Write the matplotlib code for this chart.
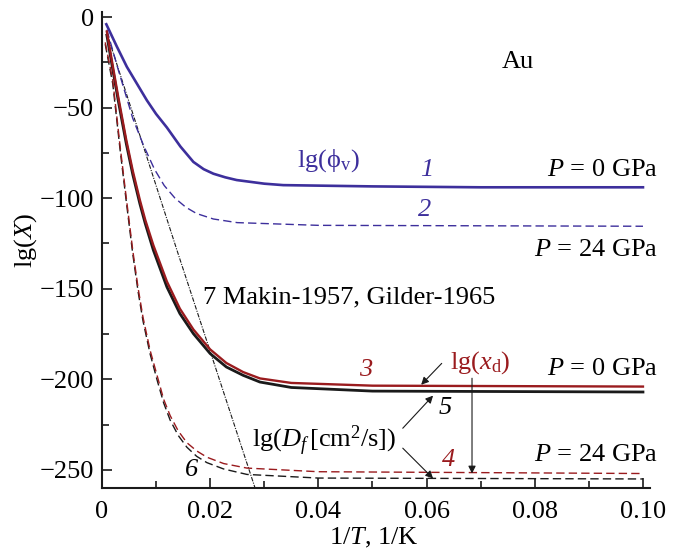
import matplotlib
matplotlib.use('Agg')
import matplotlib.pyplot as plt

plt.rcParams['font.family'] = ['Liberation Serif', 'DejaVu Serif']
plt.rcParams['mathtext.fontset'] = 'custom'
plt.rcParams['mathtext.rm'] = 'Liberation Serif'
plt.rcParams['mathtext.it'] = 'Liberation Serif:italic'

blue = '#3d2f9c'
red = '#9a1b1e'
black = '#1a1a1a'

# 1: lg(phi_v), P = 0 GPa
x1 = [0.0008, 0.0027, 0.0046, 0.0065, 0.0083, 0.010, 0.012, 0.0145, 0.0169, 0.0188, 0.0206,
      0.0228, 0.0249, 0.030, 0.0335, 0.05, 0.07, 0.10]
y1 = [-4, -16, -27.5, -37, -46, -53.5, -61, -71.5, -80, -84, -86.5, -88.5, -90, -92, -92.8,
      -93.5, -94, -94]
# 2: lg(phi_v), P = 24 GPa
x2 = [0.0009, 0.003, 0.0057, 0.0077, 0.0097, 0.0115, 0.0135, 0.0155, 0.0175, 0.0206, 0.025,
      0.04, 0.10]
y2 = [-7, -29, -56, -71, -84, -93, -100, -105, -108.5, -111.5, -113.5, -115, -115.5]
# 3: lg(x_d), P = 0 GPa
x3 = [0.0009, 0.002, 0.003, 0.0045, 0.0057, 0.007, 0.008, 0.0095, 0.012, 0.0144, 0.0169, 0.020,
      0.023, 0.0261, 0.0292, 0.035, 0.05, 0.10]
y3 = [-8, -27, -44, -68, -85, -101, -112, -126, -146, -161, -172.5, -183.5, -191, -196, -199.5,
      -202, -203.5, -204]
# 5: lg(D_f), P = 0 GPa
x5 = x3
y5 = [-10, -29, -46, -70, -87, -103, -114, -128.7, -149, -163.7, -174.8, -185.8, -193.2,
      -197.8, -201.5, -204.5, -206.5, -207]
# 4: lg(x_d), P = 24 GPa
x4 = [0.0006, 0.002, 0.0033, 0.0045, 0.0057, 0.0067, 0.0076, 0.0089, 0.0102, 0.0114, 0.0126,
      0.0141, 0.0157, 0.0175, 0.0194, 0.0225, 0.0268, 0.04, 0.10]
y4 = [-14, -35, -70, -100, -129, -150, -166, -184, -198, -211, -220, -228.5, -235, -239.5, -243,
      -246.5, -249, -251, -252]
# 6: lg(D_f), P = 24 GPa
x6 = x4
y6 = [-15, -37, -72, -102, -131, -152, -168, -186, -200.5, -213, -222.5, -231, -237.5, -242.5,
      -246, -249.5, -252.5, -254.5, -255]
# 7: Makin-1957, Gilder-1965
x7 = [0.0008, 0.0140, 0.0283]
y7 = [-8, -130, -260]

xtick_vals = [0, 0.02, 0.04, 0.06, 0.08, 0.10]
xtick_labels = ['0', '0.02', '0.04', '0.06', '0.08', '0.10']
ytick_vals = [0, -50, -100, -150, -200, -250]
ytick_labels = ['0', '\u221250', '\u2212100', '\u2212150', '\u2212200', '\u2212250']

fig = plt.figure(figsize=(6.78, 5.54), dpi=100)
ax = fig.add_axes([0.1504, 0.1191, 0.8083, 0.860])

ax.plot(x7, y7, color=black, lw=0.8, ls=(0, (4, 1.2, 1, 1.2)))
ax.plot(x1, y1, color=blue, lw=1.9)
ax.plot(x2, y2, color=blue, lw=1.0, ls=(0, (6, 3)))
ax.plot(x5, y5, color=black, lw=2.0)
ax.plot(x3, y3, color=red, lw=1.7)
ax.plot(x6, y6, color=black, lw=1.0, ls=(0, (6, 3)))
ax.plot(x4, y4, color=red, lw=1.0, ls=(0, (6, 3)))

ax.set_xlim(0, 0.1013)
ax.set_ylim(-260, 3)
for s in ['top', 'right']:
    ax.spines[s].set_visible(False)
for s in ['left', 'bottom']:
    ax.spines[s].set_linewidth(1.5)
    ax.spines[s].set_color(black)

ax.set_xticks(xtick_vals)
ax.set_xticklabels(xtick_labels)
ax.set_xticks([0.01, 0.03, 0.05, 0.07, 0.09], minor=True)
ax.set_yticks(ytick_vals)
ax.set_yticklabels(ytick_labels)
ax.set_yticks([-25, -75, -125, -175, -225], minor=True)
ax.tick_params(which='both', direction='in', labelsize=19, width=1.2, color=black)
ax.tick_params(which='major', length=7)
ax.tick_params(which='minor', length=5)
ax.tick_params(axis='x', pad=9)
ax.tick_params(axis='y', pad=6)
for lbl in ax.get_xticklabels() + ax.get_yticklabels():
    lbl.set_family('Liberation Serif')

fs = 19
ax.set_xlabel('1/$T$, 1/K', fontsize=fs)
ax.xaxis.set_label_coords(0.496, -0.08)
ax.set_ylabel('lg($X$)', fontsize=fs)
ax.yaxis.set_label_coords(-0.115, 0.52)

ax.text(0.0769, -25, 'Au', fontsize=fs, ha='center', va='center')
ax.text(0.0360, -79, 'lg(ϕ$_\\mathrm{v}$)', fontsize=fs, color=blue, ha='left', va='center')
ax.text(0.0601, -84.5, '1', fontsize=fs, color=blue, style='italic', ha='center', va='center')
ax.text(0.0597, -106.6, '2', fontsize=fs, color=blue, style='italic', ha='center', va='center')
ax.text(0.1028, -84.5, '$P$ = 0 GPa', fontsize=fs, ha='right', va='center')
ax.text(0.1028, -128.7, '$P$ = 24 GPa', fontsize=fs, ha='right', va='center')
ax.text(0.0187, -154.7, '7 Makin-1957, Gilder-1965', fontsize=fs, ha='left', va='center')
ax.text(0.0488, -195, '3', fontsize=fs, color=red, style='italic', ha='center', va='center')
ax.text(0.0643, -191, 'lg($x_\\mathrm{d}$)', fontsize=fs, color=red, ha='left', va='center')
ax.text(0.1028, -194.5, '$P$ = 0 GPa', fontsize=fs, ha='right', va='center')
ax.text(0.0634, -216, '5', fontsize=fs, style='italic', ha='center', va='center')
ax.text(0.0277, -233.7, 'lg($D_f\\,$[cm$^2$/s])', fontsize=fs, ha='left', va='center')
ax.text(0.0640, -244.8, '4', fontsize=fs, color=red, style='italic', ha='center', va='center')
ax.text(0.1028, -242, '$P$ = 24 GPa', fontsize=fs, ha='right', va='center')
ax.text(0.0166, -250.3, '6', fontsize=fs, style='italic', ha='center', va='center')

arrow = dict(arrowstyle='-|>', color=black, lw=0.8, mutation_scale=11, shrinkA=0, shrinkB=0)
ax.annotate('', xy=(0.0590, -203), xytext=(0.0628, -191.2), arrowprops=arrow)
ax.annotate('', xy=(0.0684, -252), xytext=(0.0684, -199.4), arrowprops=arrow)
ax.annotate('', xy=(0.0612, -209), xytext=(0.0556, -227), arrowprops=arrow)
ax.annotate('', xy=(0.0612, -254.7), xytext=(0.0556, -238), arrowprops=arrow)

fig.savefig('out.png', dpi=100)
